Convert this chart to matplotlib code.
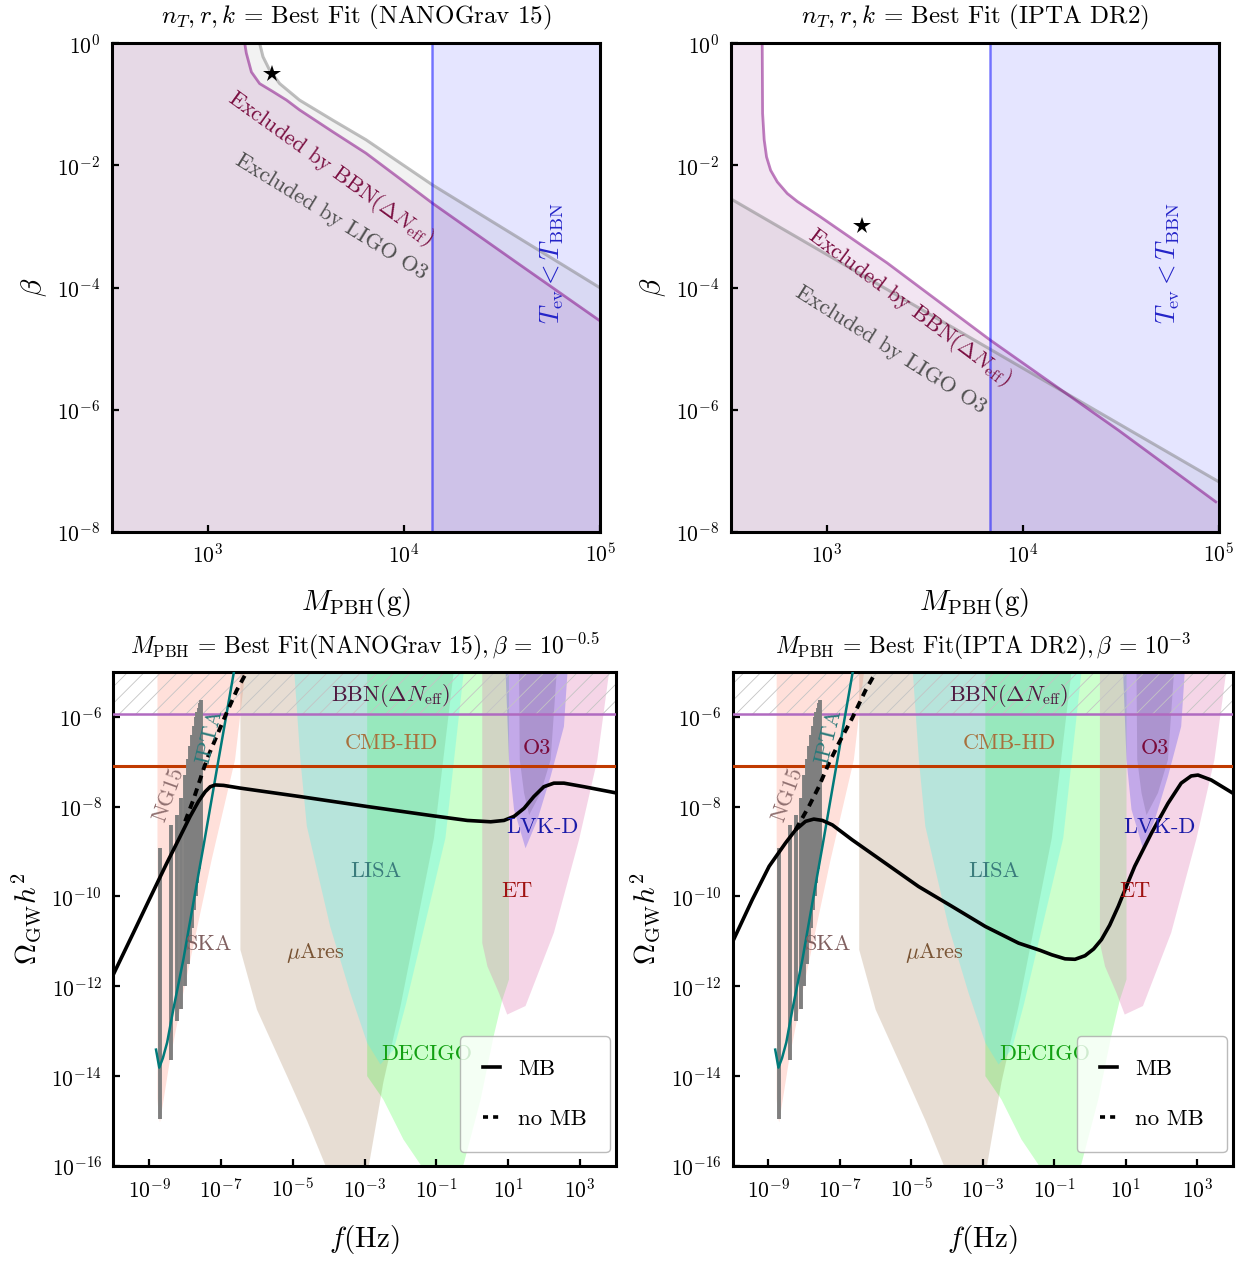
import numpy as np
import matplotlib
matplotlib.use('Agg')
import matplotlib.pyplot as plt
from matplotlib.patches import Polygon
from matplotlib.lines import Line2D

plt.rcParams['font.family'] = ['cmr10', 'DejaVu Serif']
plt.rcParams['mathtext.fontset'] = 'cm'
plt.rcParams['axes.formatter.use_mathtext'] = True
plt.rcParams['hatch.linewidth'] = 0.6
plt.rcParams['hatch.color'] = '#c4c4c4'

# ================= TOP PANELS (log10 M_PBH [g], log10 beta) =================
tl_bbn_logM = [3.187, 3.187, 3.195, 3.221, 3.263, 3.33, 3.40, 3.466, 3.636, 3.805, 3.975, 4.144, 4.568, 4.99]
tl_bbn_logb = [0.5, 0.0, -0.16, -0.47, -0.66, -0.79, -0.93, -1.09, -1.45, -1.80, -2.21, -2.62, -3.58, -4.53]
tl_ligo_logM = [3.263, 3.263, 3.280, 3.314, 3.365, 3.466, 3.636, 3.805, 4.144, 4.99]
tl_ligo_logb = [0.5, 0.0, -0.22, -0.44, -0.66, -0.93, -1.26, -1.58, -2.32, -3.99]
tl_tbbn_logM = 4.142
tl_star = (10**3.325, 10**-0.5)

tr_bbn_logM = [2.670, 2.670, 2.672, 2.680, 2.692, 2.713, 2.747, 2.798, 2.849, 2.966, 3.309, 3.834, 4.49, 4.986]
tr_bbn_logb = [0.5, 0.0, -1.15, -1.58, -1.86, -2.08, -2.27, -2.46, -2.59, -2.84, -3.60, -4.86, -6.34, -7.51]
tr_ligo_logM = [2.50, 4.156, 4.995]
tr_ligo_logb = [-2.53, -5.61, -7.17]
tr_tbbn_logM = 3.834
tr_star = (10**3.18, 10**-3.0)

top_titles = [r'$n_T, r, k$ = Best Fit (NANOGrav 15)',
              r'$n_T, r, k$ = Best Fit (IPTA DR2)']
# label centres (logM, logbeta, rotation)
top_bbn_lab = [(3.624, -2.05, -35.8), (3.424, -4.32, -36.7)]
top_ligo_lab = [(3.627, -2.85, -31.7), (3.326, -5.02, -32.3)]
top_tev_lab = [(4.752, -3.6), (4.745, -3.6)]

# ================= BOTTOM PANELS (log10 f [Hz], log10 Omega h^2) =================
ska_lf = [-8.77, -8.77, -8.74, -8.70, -8.42, -8.05, -7.26, -6.61, -6.33, -6.30]
ska_lo = [-4.0, -14.5, -14.85, -15.03, -13.63, -12.15, -9.18, -6.96, -5.04, -4.0]

mu_lf = [-6.46, -6.46, -6.0, -5.16, -4.6, -4.05, -3.5, -2.9, -2.48, -2.0, -1.07, -0.52, -0.45]
mu_lo = [-4.0, -11.19, -12.52, -14.0, -15.0, -16.07, -16.8, -16.07, -14.14, -12.44, -8.70, -5.0, -4.0]

lisa_lf = [-4.96, -4.96, -4.79, -4.61, -3.96, -3.40, -2.93, -2.56, -2.19, -1.85, -0.75, -0.24, -0.20]
lisa_lo = [-4.0, -5.0, -6.96, -8.44, -10.67, -12.15, -13.26, -13.74, -13.41, -12.4, -8.70, -5.0, -4.0]

dec_lf = [-2.93, -2.93, -2.48, -1.92, -1.36, -0.8, -0.28, 0.23, 0.59, 0.835, 1.02, 1.02]
dec_lo = [-4.0, -14.0, -14.52, -15.41, -16.07, -16.6, -16.07, -14.52, -13.12, -12.3, -11.85, -4.0]

et_lf = [0.276, 0.276, 0.42, 0.74, 0.97, 1.48, 2.27, 2.97, 3.48, 3.81, 3.85]
et_lo = [-4.0, -11.04, -11.56, -12.15, -12.63, -12.44, -10.81, -8.74, -6.96, -5.0, -4.0]

lvk_lf = [0.925, 0.925, 1.02, 1.16, 1.48, 1.81, 2.18, 2.55, 2.65, 2.67]
lvk_lo = [-4.0, -5.0, -6.96, -8.07, -8.93, -8.30, -7.33, -6.22, -5.0, -4.0]

o3_lf = [1.30, 1.30, 1.32, 1.44, 1.58, 1.90, 2.18, 2.35, 2.37]
o3_lo = [-4.0, -5.0, -6.96, -7.70, -8.19, -7.70, -6.96, -5.0, -4.0]

bbn_omega = 10**-5.94
cmbhd_omega = 10**-7.10

# NANOGrav 15 violins: frequency bins k/T, T = 16.03 yr
ng_k = np.arange(1, 15)
ng_lo = [-14.96, -13.63, -12.78, -12.5, -12.0, -11.5, -11.0, -10.7, -10.3, -10.0, -9.7, -9.4, -9.1, -8.9]
ng_hi = [-8.92, -8.41, -8.18, -7.8, -7.3, -6.95, -6.65, -6.4, -6.2, -6.0, -5.9, -5.8, -5.7, -5.63]

ipta_lf = [-8.81, -8.72, -8.62, -8.50, -8.33, -8.05, -7.75, -7.49, -7.07, -6.64]
ipta_lo = [-13.41, -13.81, -13.60, -13.25, -12.52, -11.41, -10.05, -8.89, -6.96, -5.0]

bl_mb_lf = [-10.0, -9.44, -8.98, -8.51, -8.14, -7.86, -7.63, -7.44, -7.30, -7.16, -6.93, -6.47,
            -4.79, -2.93, -1.07, -0.14, 0.51, 0.88, 1.16, 1.44, 1.71, 1.99, 2.27, 2.55, 3.11, 4.02]
bl_mb_lo = [-11.74, -10.81, -10.04, -9.26, -8.67, -8.22, -7.89, -7.67, -7.56, -7.52, -7.53, -7.59,
            -7.78, -8.00, -8.21, -8.31, -8.34, -8.31, -8.22, -8.04, -7.78, -7.56, -7.48, -7.48, -7.56, -7.70]
bl_nomb_lf = [-8.0, -7.77, -7.40, -6.89, -6.56, -6.28, -6.2]
bl_nomb_lo = [-8.33, -7.85, -6.96, -6.0, -5.41, -5.0, -4.85]

br_mb_lf = [-10.02, -9.45, -8.98, -8.52, -8.24, -7.96, -7.73, -7.49, -7.21, -6.66, -5.73, -4.80,
            -3.87, -2.93, -2.00, -1.40, -1.07, -0.70, -0.42, -0.14, 0.10, 0.32, 0.55, 0.79, 1.02,
            1.25, 1.72, 2.18, 2.55, 2.83, 3.02, 3.39, 3.99]
br_mb_lo = [-11.04, -10.07, -9.33, -8.81, -8.52, -8.33, -8.28, -8.31, -8.41, -8.74, -9.26, -9.78,
            -10.22, -10.67, -11.04, -11.20, -11.30, -11.39, -11.40, -11.32, -11.17, -10.96, -10.64,
            -10.22, -9.77, -9.33, -8.59, -7.93, -7.48, -7.32, -7.30, -7.41, -7.70]
br_nomb_lf = [-8.24, -7.87, -7.59, -7.31, -7.03, -6.66, -6.28, -5.96, -5.9]
br_nomb_lo = [-8.52, -8.0, -7.56, -7.04, -6.59, -6.04, -5.41, -4.96, -4.87]

bottom_titles = [r'$M_{\rm PBH}$ = Best Fit(NANOGrav 15)$, \beta$ = $10^{-0.5}$',
                 r'$M_{\rm PBH}$ = Best Fit(IPTA DR2)$, \beta$ = $10^{-3}$']

# region labels: text, logf, logOmega, colour, rotation
region_labels = [
    (r'BBN($\Delta N_{\rm eff}$)', -2.28, -5.52, '#4e1a40', 0),
    ('CMB-HD', -2.26, -6.60, '#a8703c', 0),
    ('O3', 1.81, -6.71, '#7a0a3a', 0),
    ('LVK-D', 1.95, -8.46, '#1a1aa8', 0),
    ('LISA', -2.68, -9.44, '#3a7c7c', 0),
    ('ET', 1.25, -9.89, '#a01212', 0),
    ('SKA', -7.34, -11.07, '#806060', 0),
    (r'$\mu$Ares', -4.37, -11.25, '#7a5535', 0),
    ('DECIGO', -1.28, -13.52, '#12a012', 0),
    ('NG15', -8.47, -7.74, '#907070', 70),
    ('IPTA', -7.33, -6.44, '#2a7a7a', 76),
]

fig = plt.figure(figsize=(12.54, 12.62), dpi=100)
W, H = 1254.0, 1262.0


def add_ax(x0, y0, x1, y1):
    return fig.add_axes([x0 / W, 1 - y1 / H, (x1 - x0) / W, (y1 - y0) / H])


def style(ax):
    for s in ax.spines.values():
        s.set_linewidth(2.2)
    ax.tick_params(which='both', direction='in', top=False, right=False,
                   labelsize=15.5, length=5, width=1.6, pad=8)
    ax.minorticks_off()


tl = add_ax(111.5, 43.3, 600.5, 531.7)
tr = add_ax(730.5, 43.3, 1218.5, 531.7)
bl = add_ax(113.3, 671.7, 616.0, 1166.0)
br = add_ax(732.7, 671.7, 1233.0, 1166.0)

# ---------------- top panels ----------------
top_sets = [
    (tl, tl_bbn_logM, tl_bbn_logb, tl_ligo_logM, tl_ligo_logb, tl_tbbn_logM, tl_star),
    (tr, tr_bbn_logM, tr_bbn_logb, tr_ligo_logM, tr_ligo_logb, tr_tbbn_logM, tr_star),
]
xlo, xhi = 10**2.508, 1e5
for i, (ax, bM, bb, lM, lb, tM, star) in enumerate(top_sets):
    bM = np.array(bM); bb = np.array(bb); lM = np.array(lM); lb = np.array(lb)
    # LIGO O3 exclusion
    first = 10**lb[0] if lM[0] <= 2.51 else 10.0
    px = np.r_[1e2, 10**lM, 1e6, 1e6, 1e2]
    py = np.r_[first, 10**lb, 10**(lb[-1] - 0.5), 1e-10, 1e-10]
    ax.fill(px, py, color='gray', alpha=0.1, lw=0)
    ax.plot(10**lM, 10**lb, color='gray', alpha=0.5, lw=2.2)
    # BBN exclusion
    px = np.r_[1e2, 10**bM, 1e6, 1e6, 1e2]
    py = np.r_[10, 10**bb, 10**(bb[-1] - 0.6), 1e-10, 1e-10]
    ax.fill(px, py, color='purple', alpha=0.1, lw=0)
    ax.plot(10**bM, 10**bb, color='purple', alpha=0.5, lw=2.0)
    # T_ev < T_BBN
    ax.axvspan(10**tM, 1e6, color='blue', alpha=0.1, lw=0)
    ax.axvline(10**tM, color='blue', alpha=0.5, lw=1.8)
    ax.plot(*star, marker='*', color='k', ms=13, mew=0)
    x, y, r = top_bbn_lab[i]
    ax.text(10**x, 10**y, r'Excluded by BBN($\Delta N_{\rm eff}$)', color='#7b1042',
            fontsize=16, rotation=r, rotation_mode='anchor', ha='center', va='center')
    x, y, r = top_ligo_lab[i]
    ax.text(10**x, 10**y, 'Excluded by LIGO O3', color='#505050',
            fontsize=16, rotation=r, rotation_mode='anchor', ha='center', va='center')
    x, y = top_tev_lab[i]
    ax.text(10**x, 10**y, r'$T_{\rm ev} < T_{\rm BBN}$', color='#2424c8', fontsize=19,
            rotation=90, ha='center', va='center')
    ax.set_xscale('log'); ax.set_yscale('log')
    ax.set_xlim(xlo, xhi); ax.set_ylim(1e-8, 1)
    ax.set_xticks([1e3, 1e4, 1e5]); ax.set_yticks([1e-8, 1e-6, 1e-4, 1e-2, 1])
    style(ax)
    ax.set_xlabel(r'$M_{\rm PBH}({\rm g})$', fontsize=21, labelpad=14)
    ax.set_ylabel(r'$\beta$', fontsize=21, labelpad=6)
    ax.set_title(top_titles[i], fontsize=18, pad=14)

# ---------------- bottom panels ----------------
regions = [
    (ska_lf, ska_lo, (255/255, 100/255, 70/255), 0.2),
    (mu_lf, mu_lo, (163/255, 123/255, 83/255), 0.25),
    (dec_lf, dec_lo, (0.0, 1.0, 0.0), 0.2),
    (lisa_lf, lisa_lo, (75/255, 245/255, 239/255), 0.3),
    (et_lf, et_lo, (222/255, 118/255, 178/255), 0.3),
    (lvk_lf, lvk_lo, (80/255, 70/255, 240/255), 0.3),
    (o3_lf, o3_lo, (120/255, 100/255, 150/255), 0.3),
]
bot_sets = [(bl, bl_mb_lf, bl_mb_lo, bl_nomb_lf, bl_nomb_lo),
            (br, br_mb_lf, br_mb_lo, br_nomb_lf, br_nomb_lo)]
ng_f = ng_k / (16.03 * 3.15576e7)
dash = (0, (2.0, 1.5))
leg_dash = (0, (1.4, 1.4))
for i, (ax, mlf, mlo, nlf, nlo) in enumerate(bot_sets):
    ax.set_xscale('log'); ax.set_yscale('log')
    for lf, lo, c, a in regions:
        verts = np.column_stack([10**np.array(lf), 10**np.array(lo)])
        ax.add_patch(Polygon(verts, closed=True, facecolor=c, alpha=a, lw=0, zorder=1))
    ax.fill_between([1e-11, 1e5], bbn_omega, 1e-3, facecolor='none', hatch='//',
                    edgecolor='#c4c4c4', lw=0, zorder=2)
    ax.axhline(bbn_omega, color='#b06ac0', lw=1.8, zorder=3)
    ax.axhline(cmbhd_omega, color='#c03a00', lw=2.2, zorder=3)
    ax.vlines(ng_f, 10**np.array(ng_lo), 10**np.array(ng_hi), color='#7f7f7f', lw=2.8, zorder=4)
    ax.plot(10**np.array(ipta_lf), 10**np.array(ipta_lo), color='#007a7a', lw=1.8, zorder=5)
    ax.plot(10**np.array(nlf), 10**np.array(nlo), color='k', lw=2.8, ls=dash, zorder=6)
    ax.plot(10**np.array(mlf), 10**np.array(mlo), color='k', lw=2.6, zorder=7,
            solid_joinstyle='round')
    for t, x, y, c, r in region_labels:
        ax.text(10**x, 10**y, t, color=c, fontsize=16, rotation=r, ha='center', va='center',
                zorder=8)
    ax.set_xlim(1e-10, 1e4); ax.set_ylim(1e-16, 1e-5)
    ax.set_xticks([1e-9, 1e-7, 1e-5, 1e-3, 1e-1, 1e1, 1e3])
    ax.set_yticks([1e-16, 1e-14, 1e-12, 1e-10, 1e-8, 1e-6])
    style(ax)
    ax.set_xlabel(r'$f({\rm Hz})$', fontsize=21, labelpad=16)
    ax.set_ylabel(r'$\Omega_{\rm GW}h^2$', fontsize=21, labelpad=6)
    ax.set_title(bottom_titles[i], fontsize=17, pad=13)
    handles = [Line2D([], [], color='k', lw=2.6),
               Line2D([], [], color='k', lw=2.6, ls=leg_dash)]
    leg = ax.legend(handles, ['MB', 'no MB'], loc='lower right', fontsize=16.5,
                    handlelength=0.75, labelspacing=1.3, borderpad=1.0, handletextpad=0.8,
                    fancybox=True, framealpha=0.8, edgecolor='#aaaaaa',
                    bbox_to_anchor=(0.988, 0.028), borderaxespad=0.0)
    leg.set_zorder(10)

fig.savefig('out.png', dpi=100)
